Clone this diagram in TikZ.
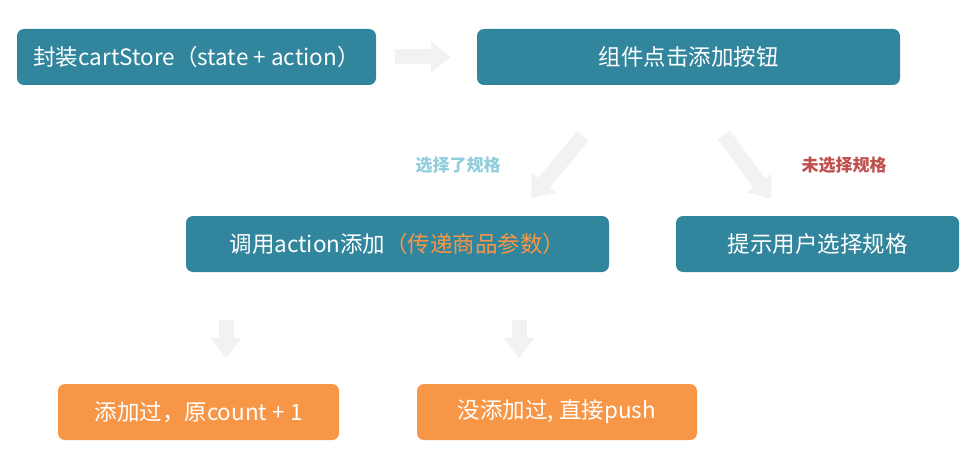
\documentclass[tikz,border=0pt]{standalone}
\usepackage{fontspec}
\setmainfont{Noto Sans CJK SC}
\usetikzlibrary{arrows.meta}
\definecolor{teal1}{HTML}{31859C}
\definecolor{orange1}{HTML}{F79646}
\definecolor{arrowgray}{HTML}{F2F2F2}
\definecolor{lblue}{HTML}{92CDDC}
\definecolor{lred}{HTML}{C0504D}
\tikzset{
  box/.style={rounded corners=7pt, minimum height=56pt, inner sep=0pt, text=white, font=\fontsize{22.5}{26}\selectfont},
  tealbox/.style={box, fill=teal1},
  orangebox/.style={box, fill=orange1},
  blockarrow/.style={draw=arrowgray, line width=15pt, -{Triangle[length=20pt, width=30pt]}},
  lbl/.style={font=\fontsize{17}{20}\selectfont\bfseries}
}
\begin{document}
\begin{tikzpicture}[x=1pt,y=-1pt]
\useasboundingbox (0,0) rectangle (967,460);
\node[tealbox, minimum width=359pt] (b1) at (196.5,57) {封装cartStore（state + action）};
\node[tealbox, minimum width=423pt] (b2) at (688.5,57) {组件点击添加按钮};
\node[tealbox, minimum width=423pt] (b3) at (397.5,244) {调用action添加\textcolor{orange1}{（传递商品参数）}};
\node[tealbox, minimum width=283pt] (b4) at (817.5,244) {提示用户选择规格};
\node[orangebox, minimum width=281pt] (b5) at (198.5,412) {添加过，原count + 1};
\node[orangebox, minimum width=280pt] (b6) at (557,412) {没添加过, 直接push};
% arrows
\coordinate (a1s) at (395,57); \coordinate (a1e) at (451,57);
\coordinate (a2s) at (583,136); \coordinate (a2e) at (531,198);
\coordinate (a3s) at (724,135); \coordinate (a3e) at (771,199);
\coordinate (a4s) at (226,320); \coordinate (a4e) at (226,358);
\coordinate (a5s) at (519,320); \coordinate (a5e) at (519,358);
\draw[blockarrow] (a1s) -- (a1e);
\draw[blockarrow] (a2s) -- (a2e);
\draw[blockarrow] (a3s) -- (a3e);
\draw[blockarrow] (a4s) -- (a4e);
\draw[blockarrow] (a5s) -- (a5e);
\node[lbl, text=lblue] (l1) at (458,165) {选择了规格};
\node[lbl, text=lred] (l2) at (844,165) {未选择规格};
\end{tikzpicture}
\end{document}
